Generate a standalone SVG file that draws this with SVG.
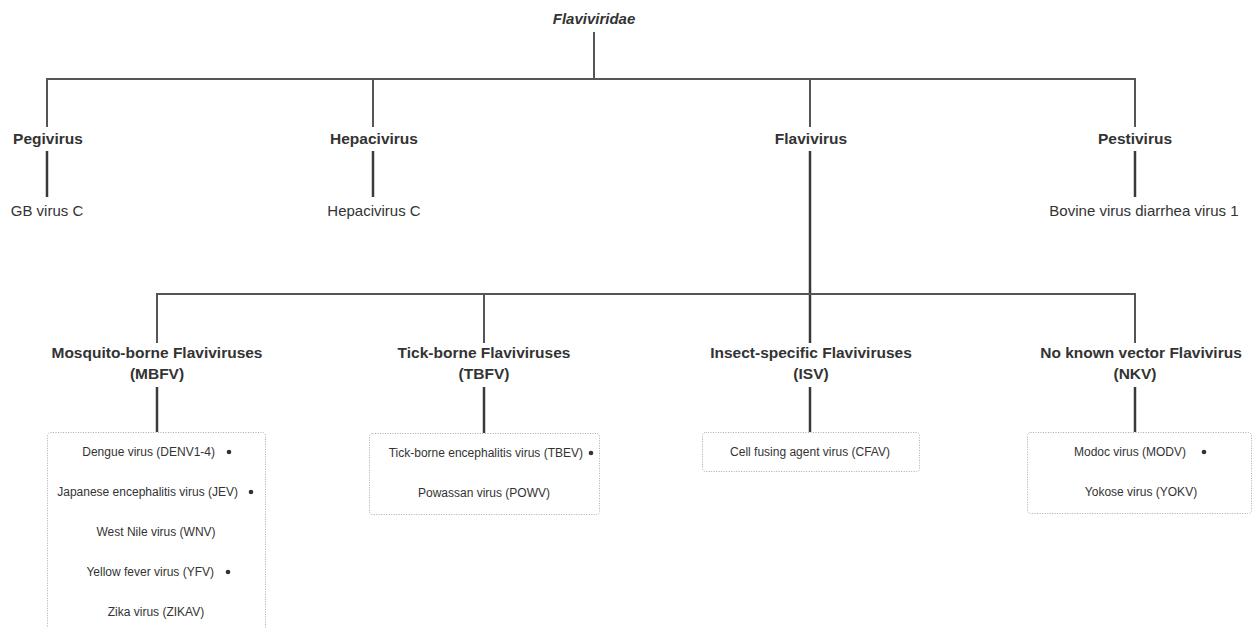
<svg xmlns="http://www.w3.org/2000/svg" width="1253" height="628" viewBox="0 0 1253 628">
  <style>
    text { font-family: "Liberation Sans", Arial, sans-serif; fill: #333; }
    .title { font-size: 15px; font-weight: bold; font-style: italic; text-anchor: middle; }
    .head { font-size: 15.5px; font-weight: bold; text-anchor: middle; }
    .leaf { font-size: 15px; text-anchor: middle; }
    .item { font-size: 12px; text-anchor: middle; }
    .iteme { font-size: 12px; text-anchor: end; }
    .link { stroke: #555; stroke-width: 2; fill: none; }
    .stem { stroke: #3a3a3a; stroke-width: 2.5; fill: none; }
    .box { fill: #fff; stroke: #aaa; stroke-width: 1; stroke-dasharray: 1 1.5; }
    .dot { fill: #333; }
  </style>

  <g id="connectors">
    <line class="link" x1="594" y1="32" x2="594" y2="79"/>
    <line class="link" x1="46" y1="79" x2="1136" y2="79"/>
    <line class="link" x1="47" y1="79" x2="47" y2="127"/>
    <line class="link" x1="373" y1="79" x2="373" y2="127"/>
    <line class="link" x1="810" y1="79" x2="810" y2="127"/>
    <line class="link" x1="1135" y1="79" x2="1135" y2="127"/>
    <line class="stem" x1="47" y1="151" x2="47" y2="197"/>
    <line class="stem" x1="373" y1="151" x2="373" y2="197"/>
    <line class="stem" x1="1135" y1="151" x2="1135" y2="197"/>
    <line class="stem" x1="810" y1="151" x2="810" y2="343"/>
    <line class="link" x1="156" y1="294" x2="1136" y2="294"/>
    <line class="link" x1="157" y1="294" x2="157" y2="343"/>
    <line class="link" x1="484" y1="294" x2="484" y2="343"/>
    <line class="link" x1="1135" y1="294" x2="1135" y2="343"/>
    <line class="stem" x1="157" y1="387" x2="157" y2="432"/>
    <line class="stem" x1="484" y1="387" x2="484" y2="433"/>
    <line class="stem" x1="810" y1="387" x2="810" y2="432"/>
    <line class="stem" x1="1135" y1="387" x2="1135" y2="432"/>
  </g>

  <g id="flaviviridae">
    <text class="title" x="594" y="24">Flaviviridae</text>
  </g>

  <g id="pegivirus">
    <text class="head" x="48" y="144">Pegivirus</text>
  </g>
  <g id="gb-virus-c">
    <text class="leaf" x="47" y="216">GB virus C</text>
  </g>

  <g id="hepacivirus">
    <text class="head" x="374" y="144">Hepacivirus</text>
  </g>
  <g id="hepacivirus-c">
    <text class="leaf" x="374" y="216">Hepacivirus C</text>
  </g>

  <g id="flavivirus">
    <text class="head" x="811" y="144">Flavivirus</text>
  </g>

  <g id="pestivirus">
    <text class="head" x="1135" y="144">Pestivirus</text>
  </g>
  <g id="bvdv1">
    <text class="leaf" x="1144" y="216">Bovine virus diarrhea virus 1</text>
  </g>

  <g id="mbfv">
    <text class="head" x="157" y="358">Mosquito-borne Flaviviruses</text>
    <text class="head" x="157" y="379">(MBFV)</text>
  </g>
  <g id="tbfv">
    <text class="head" x="484" y="358">Tick-borne Flaviviruses</text>
    <text class="head" x="484" y="379">(TBFV)</text>
  </g>
  <g id="isv">
    <text class="head" x="811" y="358">Insect-specific Flaviviruses</text>
    <text class="head" x="811" y="379">(ISV)</text>
  </g>
  <g id="nkv">
    <text class="head" x="1141" y="358">No known vector Flavivirus</text>
    <text class="head" x="1135" y="379">(NKV)</text>
  </g>

  <g id="mbfv-list">
    <rect class="box" x="47.5" y="432.5" width="218" height="210" rx="3"/>
    <text class="iteme" x="215" y="456">Dengue virus (DENV1-4)</text>
    <circle class="dot" cx="229" cy="452" r="2.3"/>
    <text class="iteme" x="238" y="496">Japanese encephalitis virus (JEV)</text>
    <circle class="dot" cx="251" cy="492" r="2.3"/>
    <text class="item" x="156" y="536">West Nile virus (WNV)</text>
    <text class="iteme" x="214" y="576">Yellow fever virus (YFV)</text>
    <circle class="dot" cx="228" cy="572" r="2.3"/>
    <text class="item" x="156" y="616">Zika virus (ZIKAV)</text>
  </g>

  <g id="tbfv-list">
    <rect class="box" x="369.5" y="433.5" width="230" height="81" rx="3"/>
    <text class="iteme" x="583" y="457">Tick-borne encephalitis virus (TBEV)</text>
    <circle class="dot" cx="591" cy="453" r="2.3"/>
    <text class="item" x="484" y="497">Powassan virus (POWV)</text>
  </g>

  <g id="isv-list">
    <rect class="box" x="702.5" y="432.5" width="217" height="39" rx="3"/>
    <text class="item" x="810" y="456">Cell fusing agent virus (CFAV)</text>
  </g>

  <g id="nkv-list">
    <rect class="box" x="1027.5" y="432.5" width="224" height="81" rx="3"/>
    <text class="iteme" x="1186" y="456">Modoc virus (MODV)</text>
    <circle class="dot" cx="1204" cy="452" r="2.3"/>
    <text class="item" x="1141" y="496">Yokose virus (YOKV)</text>
  </g>
</svg>
